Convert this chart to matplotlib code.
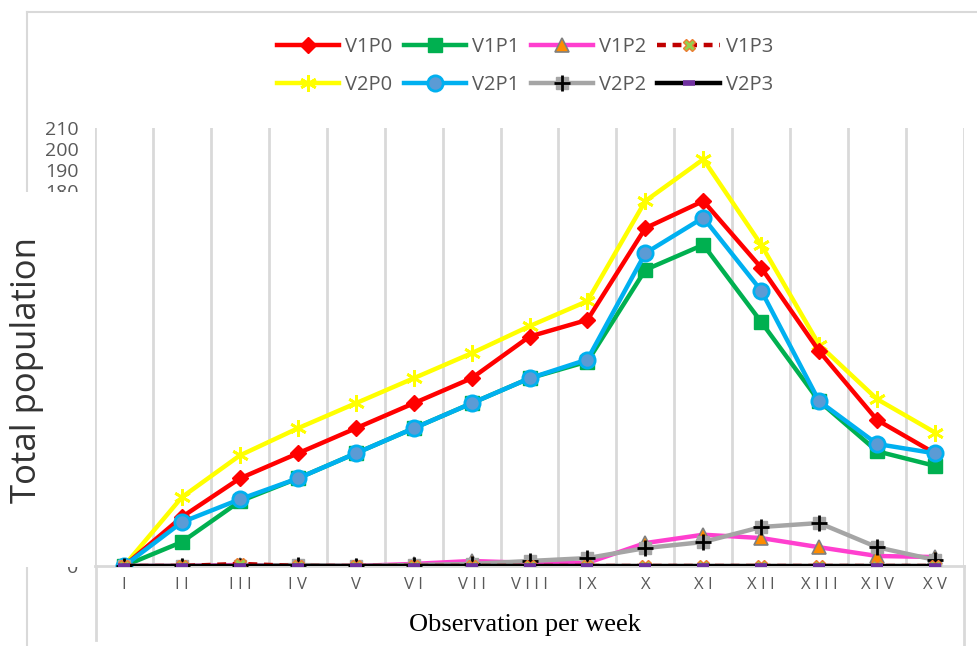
import matplotlib
matplotlib.use("Agg")
import matplotlib.pyplot as plt
from matplotlib.lines import Line2D
from matplotlib.patches import Rectangle
from matplotlib.legend_handler import HandlerTuple

weeks = ["I", "II", "III", "IV", "V", "VI", "VII", "VIII", "IX", "X",
         "XI", "XII", "XIII", "XIV", "XV"]

V1P0 = [0, 23.5, 42, 54, 66, 78, 90, 110, 118, 162, 175, 143, 103, 70, 54]
V1P1 = [0, 11.5, 31, 42, 54, 66, 78, 90, 98, 142, 154, 117, 79, 55, 48]
V1P2 = [0, 0, 0.5, 0, 0, 1, 2.4, 1.5, 1.5, 11, 15, 13.4, 9, 4.8, 4.3]
V1P3 = [0, 0, 1, 0, 0, 0, 0, 0, 0, 0, 0, 0, 0, 0, 0]
V2P0 = [0, 33, 53, 66, 78, 90, 102, 115, 127, 175, 195, 154, 106, 80, 64]
V2P1 = [0, 21, 32, 42, 54, 66, 78, 90, 99, 150, 167, 132, 79, 58.5, 54]
V2P2 = [0, 0, 0, 0.5, 0, 0.5, 1, 2.4, 3.8, 8.6, 11.5, 18.7, 20.6, 9, 2.9]
V2P3 = [0] * 15

y_ticks = [0, 180, 190, 200, 210]

W, H = 977, 646
fig = plt.figure(figsize=(W / 100, H / 100), dpi=100)
fig.patch.set_facecolor("white")

ax = fig.add_axes([95 / W, 1 - 566 / H, (964 - 95) / W, (566 - 128) / H])
x = list(range(len(weeks)))
lw = 3.2

h = {}
h["V2P3"] = ax.plot(x, V2P3, color="black", lw=lw, marker="_", ms=9, mew=4,
                    mec="#7030a0", zorder=9)[0]
h["V1P3"] = ax.plot(x, V1P3, color="#c00000", lw=lw, ls=(0, (2, 1.5)), marker="X",
                    ms=9, mfc="#92d050", mec="#ed7d31", mew=1, zorder=8)[0]
l22 = ax.plot(x, V2P2, color="#a5a5a5", lw=lw, marker="s", ms=9, mfc="#a5a5a5",
              mec="#a5a5a5", zorder=6)[0]
p22 = ax.plot(x, V2P2, ls="none", marker="+", ms=11, mew=2, color="black", zorder=6.5)[0]
h["V2P2"] = (l22, p22)
h["V1P2"] = ax.plot(x, V1P2, color="#ff3fcf", lw=lw, marker="^", ms=10,
                    mfc="#ff8c00", mec="#7f7f7f", mew=1.2, zorder=5)[0]
h["V1P1"] = ax.plot(x, V1P1, color="#00b050", lw=lw, marker="s", ms=10,
                    mfc="#00b050", mec="#00b050", zorder=4)[0]
h["V2P1"] = ax.plot(x, V2P1, color="#00b0f0", lw=lw, marker="o", ms=11,
                    mfc="#5b9bd5", mec="#00b0f0", mew=2, zorder=4.5)[0]
h["V1P0"] = ax.plot(x, V1P0, color="#ff0000", lw=lw, marker="D", ms=8,
                    mfc="#ff0000", mec="#ff0000", zorder=3.5)[0]
h["V2P0"] = ax.plot(x, V2P0, color="#ffff00", lw=lw, marker=(6, 2, 0), ms=12,
                    mew=2, mec="#ffff00", zorder=3)[0]

ax.set_xlim(-0.5, len(weeks) - 0.5)
ax.set_ylim(0, 210)
ax.set_yticks(y_ticks)
ax.set_yticklabels([str(v) for v in y_ticks])
ax.set_xticks(x)
ax.set_xticklabels([" ".join(w) for w in weeks])
ax.tick_params(axis="both", length=0, labelcolor="#595959")
ax.tick_params(axis="x", labelsize=12, pad=8)
ax.tick_params(axis="y", labelsize=14, pad=12)
for lab in ax.get_xticklabels() + ax.get_yticklabels():
    lab.set_family("Open Sans")

for b in [i - 0.5 for i in range(len(weeks) + 1)]:
    ax.axvline(b, color="#d9d9d9", lw=2, zorder=0)
for s in ["top", "right", "left"]:
    ax.spines[s].set_visible(False)
ax.spines["bottom"].set_color("#d9d9d9")
ax.spines["bottom"].set_linewidth(2)

order = ["V1P0", "V2P0", "V1P1", "V2P1", "V1P2", "V2P2", "V1P3", "V2P3"]
leg = fig.legend([h[k] for k in order], order, ncol=4, loc="center",
                 bbox_to_anchor=(525 / W, 1 - 66 / H), frameon=False,
                 handlelength=3.1, columnspacing=0.55, handletextpad=0.3,
                 labelspacing=0.9, prop={"family": "Open Sans", "size": 14.5},
                 labelcolor="#595959",
                 handler_map={tuple: HandlerTuple(ndivide=1)})

# outer frame lines
fig.add_artist(Line2D([27 / W, 1], [1 - 12 / H] * 2, color="#d9d9d9", lw=1.5))
fig.add_artist(Line2D([27 / W] * 2, [1 - 12 / H, 0], color="#d9d9d9", lw=1.5))
fig.add_artist(Line2D([96 / W] * 2, [1 - 566 / H, 1 - 640 / H], color="#d9d9d9", lw=2))
fig.add_artist(Line2D([964 / W] * 2, [1 - 566 / H, 0], color="#d9d9d9", lw=2))

# white cover over part of the y labels
cover = Rectangle((0, 1 - 567 / H), 80 / W, (567 - 192) / H, transform=fig.transFigure,
                  facecolor="white", edgecolor="none", zorder=2)
fig.add_artist(cover)

fig.text(27 / W, 1 - 370 / H, "Total population", rotation=90, ha="center", va="center",
         fontsize=25, family="Open Sans", color="#333333", zorder=3)
fig.text(525 / W, 1 - 625 / H, "Observation per week", ha="center", va="center",
         fontsize=19, family="Liberation Serif", color="black", zorder=3)

fig.savefig("out.png", dpi=100, facecolor="white")
